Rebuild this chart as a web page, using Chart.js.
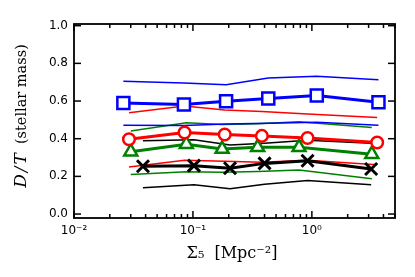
<!DOCTYPE html>
<html>
<head>
<meta charset="utf-8">
<script src="https://cdn.jsdelivr.net/npm/chart.js@4.4.0/dist/chart.umd.min.js"></script>
<style>
  html, body { margin: 0; padding: 0; background: #fff; }
  #wrap { width: 415px; height: 277px; }
</style>
</head>
<body>
<div id="wrap"><canvas id="myChart" width="415" height="277"></canvas></div>
<script>
// Sigma_5 positions of each bin, per sample
const xBlue  = [0.026, 0.084, 0.19, 0.43, 1.10, 3.63];
const xRed   = [0.029, 0.085, 0.185, 0.38, 0.92, 3.54];
const xGreen = [0.030, 0.088, 0.176, 0.35, 0.78, 3.19];
const xBlack = [0.038, 0.102, 0.205, 0.40, 0.92, 3.15];

// D/T medians and the thin upper / lower bands
const blue    = [0.590, 0.582, 0.599, 0.613, 0.629, 0.594];
const blueHi  = [0.705, 0.696, 0.687, 0.722, 0.731, 0.713];
const blueLo  = [0.472, 0.470, 0.478, 0.482, 0.488, 0.472];

const red     = [0.397, 0.433, 0.422, 0.415, 0.404, 0.380];
const redHi   = [0.538, 0.573, 0.552, 0.545, 0.531, 0.512];
const redLo   = [0.250, 0.285, 0.280, 0.275, 0.285, 0.262];

const green   = [0.331, 0.371, 0.345, 0.354, 0.354, 0.318];
const greenHi = [0.441, 0.485, 0.476, 0.480, 0.490, 0.459];
const greenLo = [0.210, 0.225, 0.222, 0.226, 0.234, 0.187];

const black   = [0.254, 0.257, 0.243, 0.269, 0.283, 0.239];
const blackHi = [0.389, 0.394, 0.366, 0.376, 0.392, 0.376];
const blackLo = [0.139, 0.155, 0.134, 0.158, 0.178, 0.155];

const yTicks = [0, 0.2, 0.4, 0.6, 0.8, 1.0];
const xTickLabels = { "0.01": "10⁻²", "0.1": "10⁻¹", "1": "10⁰" };
const X_MIN = 0.01, X_MAX = 5;

const pts = (xs, ys) => xs.map((x, i) => ({ x: x, y: ys[i] }));

function mainSet(xs, ys, color, style, radius) {
    return {
        data: pts(xs, ys),
        borderColor: color,
        borderWidth: 3,
        pointStyle: style,
        pointRadius: radius,
        pointBorderColor: color,
        pointBackgroundColor: "#ffffff",
        pointBorderWidth: style === "crossRot" ? 3 : 2.5,
        order: 0
    };
}

function band(xs, ys, color) {
    return {
        data: pts(xs, ys),
        borderColor: color,
        borderWidth: 1.5,
        pointRadius: 0,
        order: 1
    };
}

// minor/major tick values for the log axis
const xTickVals = [];
for (let e = -2; e <= 0; e++) {
    for (let m = 1; m <= 9; m++) {
        const v = m * Math.pow(10, e);
        if (v <= X_MAX + 1e-9) xTickVals.push({ v: v, major: m === 1 });
    }
}

const frame = {
    id: "frame",
    afterDatasetsDraw(chart) {
        const ctx = chart.ctx;
        const a = chart.chartArea;
        const x = chart.scales.x, y = chart.scales.y;
        ctx.save();
        ctx.strokeStyle = "#000000";
        ctx.lineWidth = 1.5;
        ctx.lineCap = "butt";
        const seg = (x1, y1, x2, y2) => {
            ctx.beginPath(); ctx.moveTo(x1, y1); ctx.lineTo(x2, y2); ctx.stroke();
        };
        xTickVals.forEach(t => {
            const px = x.getPixelForValue(t.v);
            const L = t.major ? 7 : 4;
            seg(px, a.bottom, px, a.bottom - L);
            seg(px, a.top, px, a.top + L);
        });
        yTicks.forEach(v => {
            const py = y.getPixelForValue(v);
            seg(a.left, py, a.left + 7, py);
            seg(a.right, py, a.right - 7, py);
        });
        ctx.lineWidth = 1.8;
        ctx.strokeRect(a.left, a.top, a.right - a.left, a.bottom - a.top);

        // axis titles
        ctx.fillStyle = "#000000";
        ctx.textBaseline = "middle";
        ctx.save();
        ctx.translate(22, 116);
        ctx.rotate(-Math.PI / 2);
        const p1 = "D/T";
        const p2 = "(stellar mass)";
        const gap = 7;
        ctx.letterSpacing = "2px";
        ctx.font = "italic 17px 'DejaVu Serif'";
        const w1 = ctx.measureText(p1).width;
        ctx.letterSpacing = "0px";
        ctx.font = "14.5px 'DejaVu Serif'";
        const w2 = ctx.measureText(p2).width;
        const sx = -(w1 + gap + w2) / 2;
        ctx.textAlign = "left";
        ctx.letterSpacing = "2px";
        ctx.font = "italic 17px 'DejaVu Serif'";
        ctx.fillText(p1, sx, 0);
        ctx.letterSpacing = "0px";
        ctx.font = "14.5px 'DejaVu Serif'";
        ctx.fillText(p2, sx + w1 + gap, 0);
        ctx.restore();

        ctx.textAlign = "center";
        ctx.font = "16px 'DejaVu Serif'";
        ctx.fillText("Σ₅  [Mpc⁻²]", 232, 254);
        ctx.restore();
    }
};

new Chart(document.getElementById("myChart").getContext("2d"), {
    type: "line",
    data: {
        datasets: [
            mainSet(xBlue, blue, "#0000ff", "rect", 8.5),
            mainSet(xRed, red, "#ff0000", "circle", 5.8),
            mainSet(xGreen, green, "#008000", "triangle", 7.5),
            mainSet(xBlack, black, "#000000", "crossRot", 8.5),
            band(xBlue, blueHi, "#0000ff"),
            band(xBlue, blueLo, "#0000ff"),
            band(xRed, redHi, "#ff0000"),
            band(xRed, redLo, "#ff0000"),
            band(xGreen, greenHi, "#008000"),
            band(xGreen, greenLo, "#008000"),
            band(xBlack, blackHi, "#000000"),
            band(xBlack, blackLo, "#000000")
        ]
    },
    options: {
        responsive: false,
        animation: false,
        layout: { padding: { top: 24, right: 20, left: 0, bottom: 0 } },
        plugins: { legend: { display: false }, tooltip: { enabled: false } },
        elements: { line: { tension: 0, fill: false } },
        scales: {
            x: {
                type: "logarithmic",
                min: X_MIN,
                max: X_MAX,
                grid: { display: false, drawTicks: false },
                border: { display: false },
                afterFit: s => { s.height = 59; },
                ticks: {
                    autoSkip: false,
                    maxRotation: 0,
                    padding: 6,
                    color: "#000",
                    font: { family: "'DejaVu Sans'", size: 12 },
                    callback: v => xTickLabels[String(v)] || ""
                }
            },
            y: {
                min: -0.021,
                max: 1.009,
                grid: { display: false, drawTicks: false },
                border: { display: false },
                afterFit: s => { s.width = 74; },
                afterBuildTicks: s => { s.ticks = yTicks.map(v => ({ value: v })); },
                ticks: {
                    padding: 6,
                    color: "#000",
                    font: { family: "'DejaVu Sans'", size: 12 },
                    callback: v => v.toFixed(1)
                }
            }
        }
    },
    plugins: [frame]
});
</script>
</body>
</html>
